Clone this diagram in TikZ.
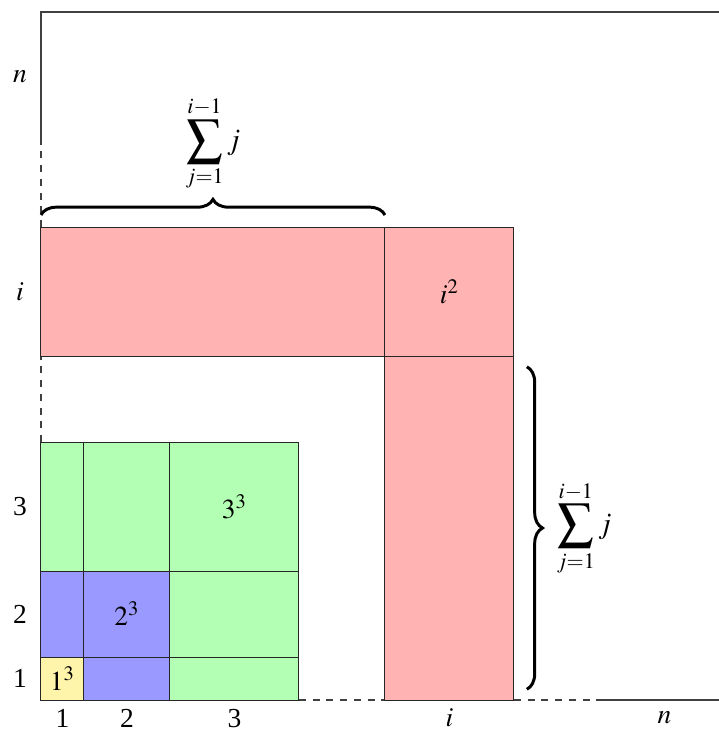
\documentclass[tikz,border=0pt]{standalone}
\usepackage{mathptmx}
\usepackage{fontspec}
\setmainfont{Liberation Serif}
\usetikzlibrary{decorations.pathreplacing, calc, positioning}

% enlarged display sum
\newcommand{\bigsum}{\mathop{\vcenter{\hbox{\scalebox{1.2}{$\displaystyle\sum$}}}}\limits}

\begin{document}
\begin{tikzpicture}[
  x=0.66cm, y=0.66cm,
  font=\fontsize{12}{14}\selectfont,
  % ---- styles ----
  cell/.style n args={3}{%
    draw=black!85, fill=#1, minimum width=#2*0.66cm, minimum height=#3*0.66cm,
    inner sep=0pt, outer sep=0pt, anchor=south west, line width=0.45pt,
  },
  axis/.style={draw=black!75, line width=0.6pt},
  gapline/.style={axis, dashed},
  ticklabel/.style={inner sep=1pt},
  sumlabel/.style={font=\fontsize{13}{15}\selectfont, inner sep=1pt},
  bigbrace/.style={decorate, decoration={brace, amplitude=0.24cm}, line width=1.3pt},
]

% ---- colour palette ----
\definecolor{C1}{RGB}{255,245,170}   % 1^3
\definecolor{C2}{RGB}{153,153,255}   % 2^3
\definecolor{C3}{RGB}{179,255,179}   % 3^3
\definecolor{Ci}{RGB}{255,179,179}   % i^2 band

% fixed frame
\useasboundingbox (-0.953,-0.767) rectangle (15.767,16.28);

% =========================================================
% axes  (solid -- gap -- solid)
% =========================================================
\coordinate (o)  at (0,0);
\coordinate (xa) at (6,0);
\coordinate (xb) at (8,0);
\coordinate (xc) at (11,0);
\coordinate (xd) at (13,0);
\coordinate (xe) at (16,0);
\coordinate (ya) at (0,6);
\coordinate (yb) at (0,8);
\coordinate (yc) at (0,11);
\coordinate (yd) at (0,13);
\coordinate (ye) at (0,16);

\draw[axis]    (o) -- (xa);
\draw[gapline] (xa) -- (xb);
\draw[gapline] (xc) -- (xd);
\draw[axis]    (xd) -- (xe);
\draw[axis]    (o) -- (ya);
\draw[gapline] (ya) -- (yb);
\draw[gapline] (yc) -- (yd);
\draw[axis]    (yd) -- (ye) -- ($(ye)+(16,0)$);

% =========================================================
% 1^3
% =========================================================
\node[cell={C1}{1}{1}] (y11) at (0,0) {$1^3$};

% =========================================================
% 2^3  --  square + two strips
% =========================================================
\node[cell={C2}{1}{2}] (b01) at (0,1) {};
\node[cell={C2}{2}{1}] (b10) at (1,0) {};
\node[cell={C2}{2}{2}] (b11) at (1,1) {$2^3$};

% =========================================================
% 3^3  --  square + strips cut at 1 and 3
% =========================================================
\node[cell={C3}{1}{3}] (g03) at (0,3) {};
\node[cell={C3}{2}{3}] (g13) at (1,3) {};
\node[cell={C3}{3}{1}] (g30) at (3,0) {};
\node[cell={C3}{3}{2}] (g31) at (3,1) {};
\node[cell={C3}{3}{3}] (g33) at (3,3) {$3^3$};

% =========================================================
% i^2  --  general step
% =========================================================
\node[cell={Ci}{8}{3}] (rrow) at (0,8) {};
\node[cell={Ci}{3}{8}] (rcol) at (8,0) {};
\node[cell={Ci}{3}{3}] (rsq)  at (8,8) {$i^2$};

% =========================================================
% tick labels
% =========================================================
\node[ticklabel] (bx1) at (0.5,-0.42)  {1};
\node[ticklabel] (bx2) at (2,-0.42)    {2};
\node[ticklabel] (bx3) at (4.5,-0.42)  {3};
\node[ticklabel] (bxi) at (9.5,-0.42)  {$i$};
\node[ticklabel] (bxn) at (14.5,-0.42) {$n$};

\node[ticklabel] (ly1) at (-0.49,0.5)  {1};
\node[ticklabel] (ly2) at (-0.49,2)    {2};
\node[ticklabel] (ly3) at (-0.49,4.5)  {3};
\node[ticklabel] (lyi) at (-0.49,9.5)  {$i$};
\node[ticklabel] (lyn) at (-0.49,14.5) {$n$};

% =========================================================
% braces + sums
% =========================================================
\draw[bigbrace] (0,11.28) -- (8,11.28)
    node[sumlabel, midway, above=0.31cm] (Ltop) {$\displaystyle\bigsum_{j=1}^{i-1} j$};

\draw[bigbrace] (11.3,7.75) -- (11.3,0.25)
    node[sumlabel, midway, right=0.4cm] (Lright) {$\displaystyle\bigsum_{j=1}^{i-1} j$};

\end{tikzpicture}
\end{document}
